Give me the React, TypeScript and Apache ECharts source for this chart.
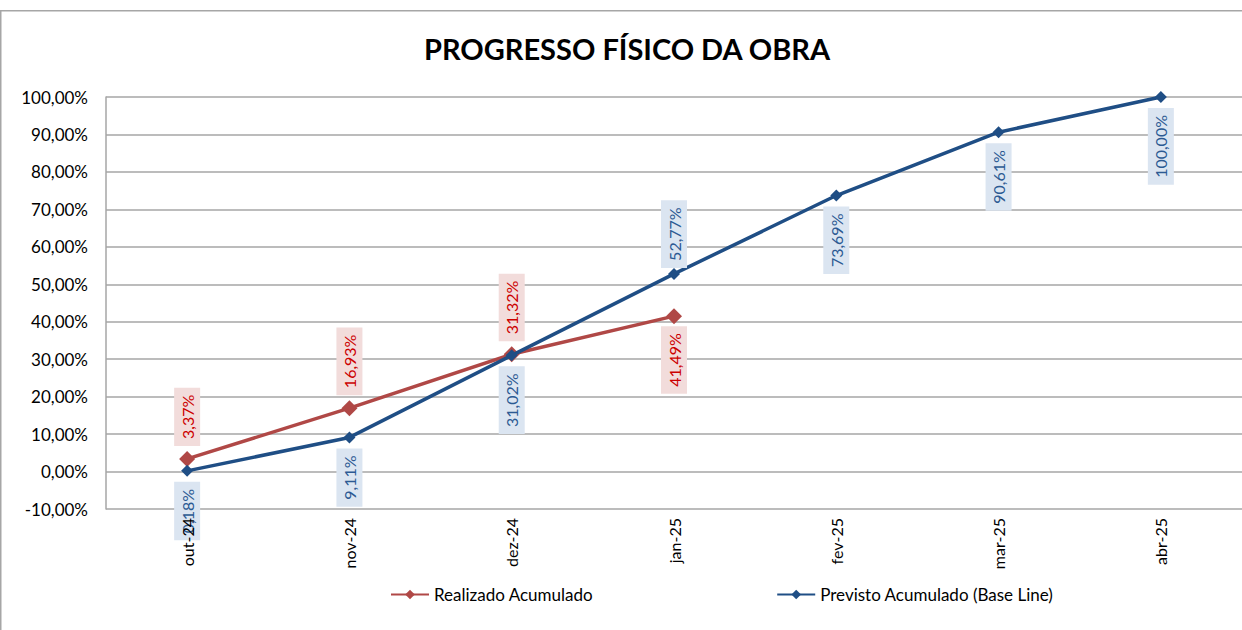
import React, { useEffect, useRef } from "react";
import * as echarts from "echarts";

const categories = ["out-24", "nov-24", "dez-24", "jan-25", "fev-25", "mar-25", "abr-25"];
const realizado = [3.37, 16.93, 31.32, 41.49];
const previsto = [0.18, 9.11, 31.02, 52.77, 73.69, 90.61, 100.0];
const yTicks = { min: -10, max: 100, interval: 10 };
const realizadoBelow = [3];
const previstoAbove = [3];

const FONT = "Lato, 'Open Sans', sans-serif";
const fmt = (v: number) => v.toFixed(2).replace(".", ",") + "%";

const RED = "#b04846";
const BLUE = "#1f4e85";

function makeLabel(above: boolean, color: string, bg: string, distance: number) {
  return {
    show: true,
    position: above ? "top" : "bottom",
    rotate: 90,
    align: above ? "left" : "right",
    verticalAlign: "middle",
    distance,
    color,
    backgroundColor: bg,
    padding: [5, 7],
    fontSize: 16,
    fontFamily: FONT,
    formatter: (p: any) => fmt(p.value),
  };
}

export default function App() {
  const ref = useRef<HTMLDivElement>(null);
  useEffect(() => {
    document.body.style.margin = "0";
    const chart = echarts.init(ref.current!, null, { renderer: "svg" });
    chart.setOption({
      animation: false,
      backgroundColor: "#ffffff",
      textStyle: { fontFamily: FONT },
      title: {
        text: "PROGRESSO FÍSICO DA OBRA",
        left: 622,
        textAlign: "center",
        top: 29,
        textStyle: { fontSize: 29, fontWeight: "bold", color: "#000", fontFamily: FONT },
      },
      graphic: [
        {
          type: "rect",
          shape: { x: 0.75, y: 10.75, width: 1300, height: 700 },
          style: { fill: "none", stroke: "#a6a6a6", lineWidth: 1.5 },
          silent: true,
        },
      ],
      grid: { left: 106, top: 97, width: 1142, height: 412, containLabel: false },
      legend: {
        left: 385,
        top: 581,
        itemGap: 183,
        itemWidth: 38,
        itemHeight: 12,
        textStyle: { fontSize: 17, color: "#000", fontFamily: FONT },
        data: ["Realizado Acumulado", "Previsto Acumulado (Base Line)"],
      },
      xAxis: {
        type: "category",
        data: categories,
        boundaryGap: true,
        z: 20,
        axisLine: { show: false },
        axisTick: { show: false },
        axisLabel: { rotate: 90, margin: 9, fontSize: 16, color: "#000", fontFamily: FONT },
      },
      yAxis: {
        type: "value",
        min: yTicks.min,
        max: yTicks.max,
        interval: yTicks.interval,
        axisLine: { show: true, lineStyle: { color: "#a6a6a6", width: 1.5 } },
        axisTick: { show: false },
        splitLine: { show: true, lineStyle: { color: "#a6a6a6", width: 1.5 } },
        axisLabel: { margin: 18, fontSize: 17, color: "#000", fontFamily: FONT, formatter: (v: number) => fmt(v) },
      },
      series: [
        {
          name: "Realizado Acumulado",
          type: "line",
          data: realizado.map((v, i) => ({
            value: v,
            label: makeLabel(!realizadoBelow.includes(i), "#cc0000", "#f2dcdb", realizadoBelow.includes(i) ? 2 : 5),
          })),
          symbol: "diamond",
          symbolSize: 16,
          lineStyle: { color: RED, width: 3.5 },
          itemStyle: { color: RED },
          labelLayout: { hideOverlap: false },
          z: 3,
        },
        {
          name: "Previsto Acumulado (Base Line)",
          type: "line",
          data: previsto.map((v, i) => ({
            value: v,
            label: makeLabel(previstoAbove.includes(i), "#2c5a93", "#dbe5f1", previstoAbove.includes(i) ? 0 : 5),
          })),
          symbol: "diamond",
          symbolSize: 12,
          lineStyle: { color: BLUE, width: 3.5 },
          itemStyle: { color: BLUE },
          labelLayout: { hideOverlap: false },
          z: 4,
        },
      ],
    });
    return () => chart.dispose();
  }, []);
  return <div ref={ref} style={{ width: 1242, height: 630 }} />;
}
